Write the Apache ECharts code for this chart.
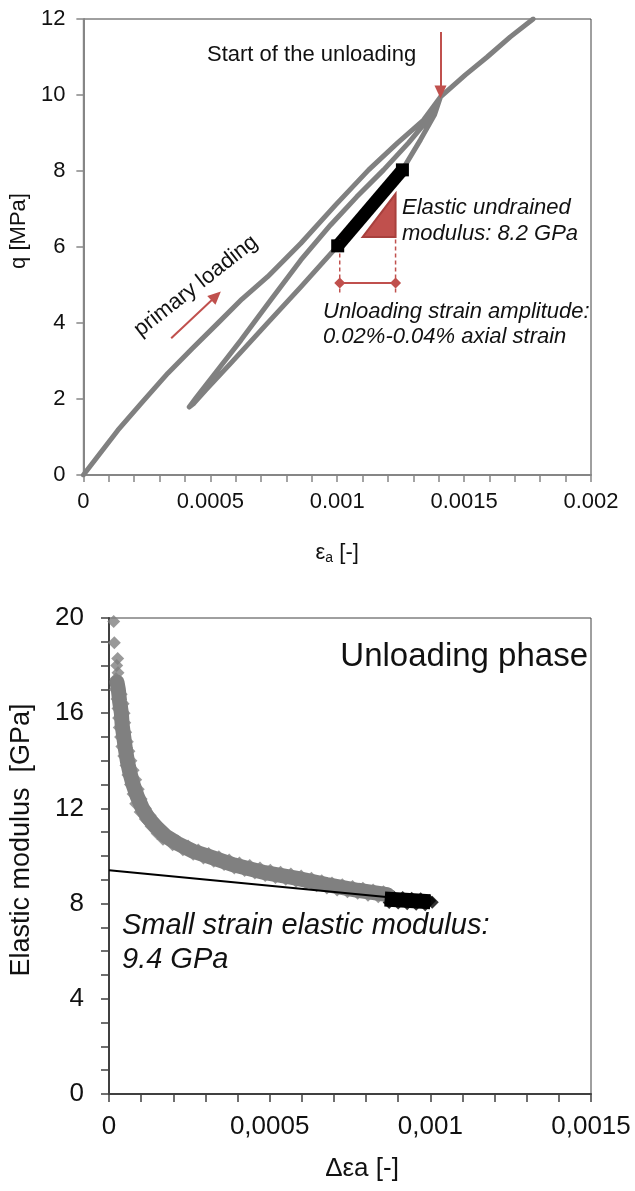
<!DOCTYPE html>
<html>
<head>
<meta charset="utf-8">
<script src="https://cdn.jsdelivr.net/npm/echarts@6/dist/echarts.min.js"></script>
<style>
  html, body { margin: 0; padding: 0; background: #fff; }
  #chart { width: 635px; height: 1191px; }
</style>
</head>
<body>
<div id="chart"></div>
<script>
// ---- Upper panel: deviator stress q [MPa] vs axial strain (unload–reload cycle) ----
const primaryLoading = [
  [0, 0], [0.000136, 1.18], [0.000232, 1.92], [0.000333, 2.68],
  [0.000428, 3.32], [0.000529, 3.99], [0.000625, 4.63], [0.000726, 5.22],
  [0.000857, 6.10], [0.000994, 7.11], [0.001124, 8.03], [0.001238, 8.74],
  [0.00134, 9.34], [0.001407, 9.95]
];
const unloadingBranch = [
  [0.001407, 9.95], [0.001383, 9.47], [0.001328, 8.82], [0.001257, 8.03],
  [0.001132, 7.03], [0.001002, 6.03], [0.000857, 4.95], [0.000719, 3.95],
  [0.000582, 2.95], [0.000483, 2.24], [0.000436, 1.89], [0.000417, 1.79]
];
const reloadingBranch = [
  [0.000417, 1.79], [0.000444, 2.03], [0.000523, 2.71], [0.000621, 3.55],
  [0.000739, 4.61], [0.000857, 5.66], [0.000974, 6.58], [0.001077, 7.32],
  [0.001183, 8.03], [0.001281, 8.74], [0.00136, 9.37], [0.001407, 9.95]
];
const continuedLoading = [
  [0.001407, 9.95], [0.001505, 10.53], [0.001591, 11.0], [0.001682, 11.53], [0.001772, 12.0]
];
// stretch of the unloading branch used for the elastic modulus
const elasticStretch = [[0.001002, 6.03], [0.001257, 8.03]];
const modulusTriangle = [[0.0011, 6.26], [0.00123, 7.4], [0.00123, 6.26]];
const amplitudeStrains = [0.00101, 0.00123];
const amplitudeLevel = 5.05;
const amplitudeGuideQ = [6.2, 4.75];
const unloadArrow = [[0.001407, 11.66], [0.001407, 10.08]];
const loadingArrow = [[0.000346, 3.6], [0.000523, 4.71]];
const topXLabels = ['0', '0.0005', '0.001', '0.0015', '0.002'];
const topYLabels = ['0', '2', '4', '6', '8', '10', '12'];

// ---- Lower panel: elastic modulus [GPa] vs strain increment during unloading ----
const modulusPoints = [
  [0.0000146, 19.85], [0.0000165, 18.96], [0.000027, 18.3], [0.000024, 18.0],
  [0.000028, 17.7], [0.000022, 17.45], [0.000030, 17.2],
  [0.000020, 17.0], [0.000038, 16.8], [0.000025, 16.6], [0.000044, 16.4],
  [0.000028, 16.2], [0.000047, 16.0], [0.000030, 15.8], [0.000049, 15.6],
  [0.000032, 15.4], [0.000052, 15.2], [0.000036, 15.0], [0.000057, 14.8],
  [0.000040, 14.6], [0.000062, 14.4], [0.000046, 14.2], [0.000068, 14.0],
  [0.000053, 13.8], [0.000075, 13.6], [0.000059, 13.4], [0.000083, 13.2],
  [0.000067, 13.0], [0.000091, 12.8], [0.000075, 12.6], [0.000100, 12.4],
  [0.000083, 12.2], [0.000113, 12.0], [0.000097, 11.85], [0.000128, 11.7],
  [0.000113, 11.55], [0.000145, 11.4], [0.000131, 11.25], [0.000165, 11.1],
  [0.000150, 10.95], [0.000185, 10.82], [0.000168, 10.7],
  [0.000182, 10.83], [0.000198, 10.47], [0.000214, 10.63], [0.000230, 10.26],
  [0.000246, 10.42], [0.000262, 10.07], [0.000278, 10.25], [0.000294, 9.92],
  [0.000310, 10.11], [0.000326, 9.78], [0.000342, 9.97], [0.000358, 9.64],
  [0.000374, 9.83], [0.000390, 9.50], [0.000406, 9.71], [0.000422, 9.39],
  [0.000438, 9.60], [0.000454, 9.29], [0.000470, 9.50], [0.000486, 9.18],
  [0.000502, 9.40], [0.000518, 9.10], [0.000534, 9.32], [0.000550, 9.02],
  [0.000566, 9.24], [0.000582, 8.94], [0.000598, 9.16], [0.000614, 8.85],
  [0.000630, 9.06], [0.000646, 8.75], [0.000662, 8.96], [0.000678, 8.66],
  [0.000694, 8.87], [0.000710, 8.57], [0.000726, 8.79], [0.000742, 8.50],
  [0.000758, 8.72], [0.000774, 8.43], [0.000790, 8.64], [0.000806, 8.35],
  [0.000822, 8.57], [0.000838, 8.29], [0.000854, 8.50], [0.000866, 8.30]
];
// middle of the dense point cloud, where the markers overlap completely
const modulusCloudCore = [
  [0.000025, 17.3], [0.000029, 17.0], [0.000033, 16.5], [0.0000385, 16.0],
  [0.000041, 15.5], [0.000046, 15.0], [0.000051, 14.5], [0.000057, 14.0],
  [0.000065, 13.5], [0.000075, 13.0], [0.000088, 12.5], [0.000104, 12.0],
  [0.000122, 11.6], [0.000148, 11.2], [0.000175, 10.85], [0.000214, 10.52],
  [0.000262, 10.2], [0.000310, 9.98], [0.000390, 9.62], [0.000486, 9.3],
  [0.000582, 9.07], [0.000678, 8.8], [0.000774, 8.56], [0.000866, 8.38]
];
const fittedPoints = [
  [0.000858, 8.32], [0.000872, 8.05], [0.000886, 8.29], [0.000900, 8.02],
  [0.000914, 8.26], [0.000928, 7.99], [0.000942, 8.23], [0.000956, 7.97],
  [0.000970, 8.20], [0.000984, 7.95], [0.000998, 8.12], [0.001006, 8.06]
];
const fittedCore = [[0.000858, 8.19], [0.001000, 8.08]];
const smallStrainFit = [[0, 9.4], [0.001, 8.1]];
const bottomXLabels = ['0', '0,0005', '0,001', '0,0015'];
const bottomYLabels = ['0', '4', '8', '12', '16', '20'];

const FONT = '"Liberation Sans", Arial, sans-serif';
const RED = '#c0504d';
const GREY = '#808080';

function labelFrom(list, step) {
  return v => list[Math.round(v / step)];
}

const chart = echarts.init(document.getElementById('chart'), null, { renderer: 'canvas' });

chart.setOption({
  animation: false,
  backgroundColor: '#fff',
  grid: [
    { left: 82, top: 19, width: 509, height: 456, show: true, borderColor: '#404040', borderWidth: 1, backgroundColor: 'transparent' },
    { left: 108, top: 618, width: 483, height: 476, show: true, borderColor: '#404040', borderWidth: 1, backgroundColor: 'transparent' }
  ],
  xAxis: [
    {
      gridIndex: 0, type: 'value', min: 0, max: 0.002, interval: 0.0005,
      axisLine: { show: true, onZero: false, lineStyle: { color: '#868686', width: 2 } },
      axisTick: { show: true, inside: false, length: 7, lineStyle: { color: '#868686', width: 1.5 } },
      minorTick: { show: true, splitNumber: 5, length: 7, lineStyle: { color: '#868686', width: 1.5 } },
      splitLine: { show: false },
      axisLabel: { margin: 16, color: '#111', fontSize: 22, fontFamily: FONT, formatter: labelFrom(topXLabels, 0.0005) },
      name: '{e|ε}{s|a}{e| [-]}', nameLocation: 'middle', nameGap: 66,
      nameTextStyle: {
        rich: {
          e: { fontSize: 22, fontFamily: FONT, color: '#111' },
          s: { fontSize: 14, fontFamily: FONT, color: '#111', verticalAlign: 'bottom', padding: [10, 0, 0, 0] }
        }
      }
    },
    {
      gridIndex: 1, type: 'value', min: 0, max: 0.0015, interval: 0.0005,
      axisLine: { show: true, onZero: false, lineStyle: { color: '#404040', width: 2 } },
      axisTick: { show: true, inside: false, length: 8, lineStyle: { color: '#404040', width: 1.5 } },
      minorTick: { show: true, splitNumber: 5, length: 8, lineStyle: { color: '#404040', width: 1.5 } },
      splitLine: { show: false },
      axisLabel: { margin: 20, color: '#111', fontSize: 26, fontFamily: FONT, formatter: labelFrom(bottomXLabels, 0.0005) },
      name: 'Δεa [-]', nameLocation: 'middle', nameGap: 62,
      nameTextStyle: { fontSize: 26, fontFamily: FONT, color: '#111', padding: [0, 0, 0, 24] }
    }
  ],
  yAxis: [
    {
      gridIndex: 0, type: 'value', min: 0, max: 12, interval: 2,
      axisLine: { show: true, onZero: false, lineStyle: { color: '#868686', width: 2 } },
      axisTick: { show: true, inside: false, length: 7, lineStyle: { color: '#868686', width: 1.5 } },
      splitLine: { show: false },
      axisLabel: { margin: 18, color: '#111', fontSize: 22, fontFamily: FONT, formatter: labelFrom(topYLabels, 2) },
      name: 'q [MPa]', nameLocation: 'middle', nameGap: 48,
      nameTextStyle: { fontSize: 22, fontFamily: FONT, color: '#111', padding: [0, 0, 0, 32] }
    },
    {
      gridIndex: 1, type: 'value', min: 0, max: 20, interval: 4,
      axisLine: { show: true, onZero: false, lineStyle: { color: '#404040', width: 2 } },
      axisTick: { show: true, inside: false, length: 8, lineStyle: { color: '#404040', width: 1.5 } },
      minorTick: { show: true, splitNumber: 4, length: 8, lineStyle: { color: '#404040', width: 1.5 } },
      splitLine: { show: false },
      axisLabel: { margin: 25, color: '#111', fontSize: 26, fontFamily: FONT, formatter: labelFrom(bottomYLabels, 4) },
      name: 'Elastic modulus  [GPa]', nameLocation: 'middle', nameGap: 74,
      nameTextStyle: { fontSize: 27, fontFamily: FONT, color: '#111', padding: [0, 0, 0, 32] }
    }
  ],
  series: [
    // full stress path: primary loading, unloading, reloading and further loading
    {
      type: 'line', xAxisIndex: 0, yAxisIndex: 0, silent: true,
      data: primaryLoading.concat(unloadingBranch.slice(1), reloadingBranch.slice(1), continuedLoading.slice(1)),
      showSymbol: false, symbol: 'none',
      lineStyle: { color: GREY, width: 5, join: 'round', cap: 'round' },
      markLine: {
        silent: true, symbol: ['none', 'triangle'], symbolSize: [12, 13],
        label: { show: false },
        lineStyle: { color: RED, width: 2, type: 'solid' },
        emphasis: { disabled: true },
        data: [
          [{ coord: unloadArrow[0] }, { coord: unloadArrow[1] }],
          [{ coord: loadingArrow[0] }, { coord: loadingArrow[1] }]
        ]
      }
    },
    // red slope triangle
    {
      type: 'custom', xAxisIndex: 0, yAxisIndex: 0, silent: true,
      data: modulusTriangle,
      renderItem: function (params, api) {
        if (params.dataIndex !== 0) return null;
        const pts = modulusTriangle.map(p => api.coord(p));
        return {
          type: 'polygon',
          shape: { points: pts },
          style: { fill: RED, stroke: '#a8403d', lineWidth: 2 }
        };
      }
    },
    // highlighted elastic stretch of the unloading branch
    {
      type: 'line', xAxisIndex: 0, yAxisIndex: 0, silent: true,
      data: elasticStretch,
      symbol: 'rect', symbolSize: 13, showSymbol: true,
      itemStyle: { color: '#000' },
      lineStyle: { color: '#000', width: 13 }
    },
    // strain amplitude guides
    {
      type: 'line', xAxisIndex: 0, yAxisIndex: 0, silent: true, symbol: 'none',
      data: amplitudeGuideQ.map(q => [amplitudeStrains[0], q]),
      lineStyle: { color: RED, width: 1.5, type: [4, 3] }
    },
    {
      type: 'line', xAxisIndex: 0, yAxisIndex: 0, silent: true, symbol: 'none',
      data: amplitudeGuideQ.map(q => [amplitudeStrains[1], q]),
      lineStyle: { color: RED, width: 1.5, type: [4, 3] }
    },
    {
      type: 'line', xAxisIndex: 0, yAxisIndex: 0, silent: true,
      data: amplitudeStrains.map(e => [e, amplitudeLevel]),
      symbol: 'diamond', symbolSize: 11, showSymbol: true,
      itemStyle: { color: RED },
      lineStyle: { color: RED, width: 2 }
    },
    // lower panel
    {
      type: 'line', xAxisIndex: 1, yAxisIndex: 1, silent: true, symbol: 'none',
      data: modulusCloudCore,
      lineStyle: { color: GREY, width: 15, join: 'round', cap: 'round' }
    },
    {
      type: 'scatter', xAxisIndex: 1, yAxisIndex: 1, silent: true,
      data: modulusPoints, symbol: 'diamond', symbolSize: 13,
      itemStyle: { color: GREY }
    },
    {
      type: 'line', xAxisIndex: 1, yAxisIndex: 1, silent: true, symbol: 'none',
      data: smallStrainFit,
      lineStyle: { color: '#000', width: 2 }
    },
    {
      type: 'line', xAxisIndex: 1, yAxisIndex: 1, silent: true, symbol: 'none',
      data: fittedCore,
      lineStyle: { color: '#000', width: 15, cap: 'butt' }
    },
    {
      type: 'scatter', xAxisIndex: 1, yAxisIndex: 1, silent: true,
      data: fittedPoints, symbol: 'diamond', symbolSize: 13,
      itemStyle: { color: '#000' }
    }
  ],
  graphic: [
    { type: 'text', style: { text: 'Start of the unloading', x: 207, y: 55, align: 'left', verticalAlign: 'middle', font: '22px ' + FONT, fill: '#111' } },
    { type: 'text', x: 196, y: 286, rotation: 38 * Math.PI / 180,
      style: { text: 'primary loading', x: 0, y: 0, align: 'center', verticalAlign: 'middle', font: '22px ' + FONT, fill: '#111' } },
    { type: 'text', style: { text: 'Elastic undrained', x: 402, y: 208, align: 'left', verticalAlign: 'middle', font: 'italic 22px ' + FONT, fill: '#111' } },
    { type: 'text', style: { text: 'modulus: 8.2 GPa', x: 402, y: 234, align: 'left', verticalAlign: 'middle', font: 'italic 22px ' + FONT, fill: '#111' } },
    { type: 'text', style: { text: 'Unloading strain amplitude:', x: 323, y: 312, align: 'left', verticalAlign: 'middle', font: 'italic 22px ' + FONT, fill: '#111' } },
    { type: 'text', style: { text: '0.02%-0.04% axial strain', x: 323, y: 337, align: 'left', verticalAlign: 'middle', font: 'italic 22px ' + FONT, fill: '#111' } },
    { type: 'text', style: { text: 'Unloading phase', x: 588, y: 657, align: 'right', verticalAlign: 'middle', font: '33px ' + FONT, fill: '#111' } },
    { type: 'text', style: { text: 'Small strain elastic modulus:', x: 122, y: 926, align: 'left', verticalAlign: 'middle', font: 'italic 29px ' + FONT, fill: '#111' } },
    { type: 'text', style: { text: '9.4 GPa', x: 122, y: 960, align: 'left', verticalAlign: 'middle', font: 'italic 29px ' + FONT, fill: '#111' } }
  ]
});
</script>
</body>
</html>
